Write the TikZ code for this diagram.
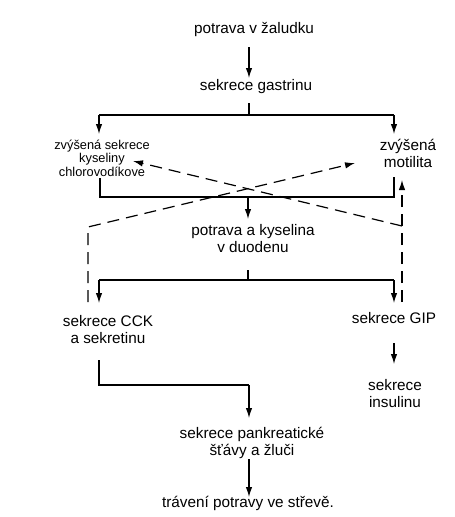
\documentclass[tikz,border=0pt]{standalone}
\usepackage{fontspec}
\setmainfont{Liberation Sans}
\usetikzlibrary{arrows.meta}
\begin{document}
\begin{tikzpicture}[x=1pt,y=-1pt,
  lbl/.style={inner sep=0pt, align=center, font=\fontsize{15.3}{16.5}\selectfont, anchor=base},
  sml/.style={lbl, font=\fontsize{12.8}{13.5}\selectfont},
  ln/.style={line width=1.2pt},
  arr/.style={ln, -{Latex[length=10pt,width=6.5pt]}},
  dsh/.style={line width=1.2pt, dash pattern=on 12pt off 7pt},
  darr/.style={dsh, -{Latex[length=10pt,width=6.5pt]}}]
\useasboundingbox (0,0) rectangle (455,517);
% text nodes (base anchor = baseline of the last line)
\node[lbl] (zal) at (254,33) {potrava v žaludku};
\node[lbl] (gas) at (256,90) {sekrece gastrinu};
\node[sml] (hcl) at (102,176) {zvýšená sekrece\\kyseliny\\chlorovodíkove};
\node[lbl] (mot) at (408,167) {zvýšená\\motilita};
\node[lbl] (duo) at (253,252) {potrava a kyselina\\v duodenu};
\node[lbl] (cck) at (108,343) {sekrece CCK\\a sekretinu};
\node[lbl] (gip) at (394,323) {sekrece GIP};
\node[lbl] (ins) at (395,407) {sekrece\\insulinu};
\node[lbl] (pan) at (252,455) {sekrece pankreatické\\šťávy a žluči};
\node[lbl] (tra) at (248,507) {trávení potravy ve střevě.};
% junction coordinates
\coordinate (zalB) at (249,47);
\coordinate (gasT) at (249,78);
\coordinate (gasB) at (249,103);
\coordinate (s1) at (249,115);
\coordinate (s1L) at (99,115);
\coordinate (s1R) at (394,115);
\coordinate (hclT) at (99,134);
\coordinate (motT) at (394,134);
\coordinate (hclB) at (100,178);
\coordinate (motB) at (394,177);
\coordinate (j1L) at (100,197);
\coordinate (j1R) at (394,197);
\coordinate (j1) at (248,197);
\coordinate (duoT) at (248,219);
\coordinate (duoB) at (248,270);
\coordinate (s2) at (248,280);
\coordinate (s2L) at (99,280);
\coordinate (s2R) at (394,280);
\coordinate (cckT) at (99,303);
\coordinate (gipT) at (394,303);
\coordinate (gipB) at (394,343);
\coordinate (insT) at (394,364);
\coordinate (cckB) at (99,360);
\coordinate (c1) at (99,385);
\coordinate (c2) at (249,385);
\coordinate (panT) at (249,418);
\coordinate (panB) at (249,459);
\coordinate (traT) at (249,497);
% dashed feedback coordinates
\coordinate (dL1) at (88,302);
\coordinate (dL2) at (88,227);
\coordinate (motA) at (355,163);
\coordinate (dR1) at (402,302);
\coordinate (motD) at (402,180);
\coordinate (dR2) at (402,226);
\coordinate (hclA) at (133,161);
% solid connectors
\draw[arr] (zalB) -- (gasT);
\draw[ln] (gasB) -- (s1);
\draw[ln] (s1L) -- (s1R);
\draw[arr] (s1L) -- (hclT);
\draw[arr] (s1R) -- (motT);
\draw[ln] (hclB) -- (j1L) -- (j1R) -- (motB);
\draw[arr] (j1) -- (duoT);
\draw[ln] (duoB) -- (s2);
\draw[ln] (s2L) -- (s2R);
\draw[arr] (s2L) -- (cckT);
\draw[arr] (s2R) -- (gipT);
\draw[arr] (gipB) -- (insT);
\draw[ln] (cckB) -- (c1) -- (c2);
\draw[arr] (c2) -- (panT);
\draw[arr] (panB) -- (traT);
% dashed connectors
\draw[darr] (dL1) -- (dL2) -- (motA);
\draw[darr] (dR1) -- (motD);
\draw[darr] (dR2) -- (hclA);
\end{tikzpicture}
\end{document}
